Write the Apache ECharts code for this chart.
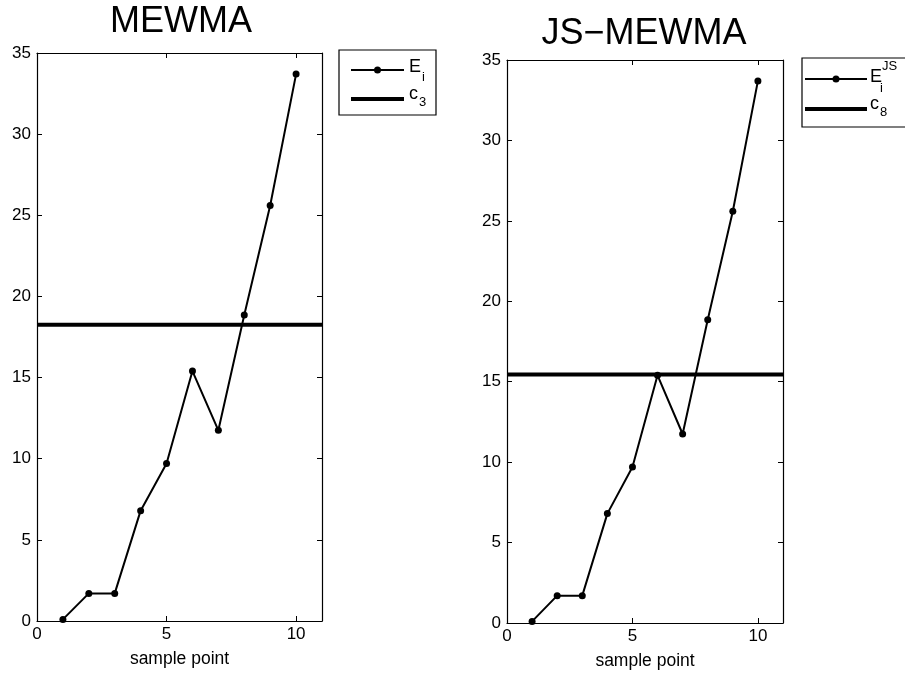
<!DOCTYPE html>
<html>
<head>
<meta charset="utf-8">
<script src="https://cdn.jsdelivr.net/npm/echarts@6/dist/echarts.min.js"></script>
<style>
html,body{margin:0;padding:0;background:#fff;}
#c{width:905px;height:673px;}
</style>
</head>
<body>
<div id="c"></div>
<script>
// ---- data ----
var samplePoints = [1, 2, 3, 4, 5, 6, 7, 8, 9, 10];
var E_values = [0.1, 1.7, 1.7, 6.8, 9.7, 15.4, 11.75, 18.85, 25.6, 33.7];
var EJS_values = [0.1, 1.7, 1.7, 6.8, 9.7, 15.4, 11.75, 18.85, 25.6, 33.7];
var c3 = 18.25;
var c8 = 15.45;
var xRange = [0, 11];
var yRange = [0, 35];
var titles = ['MEWMA', 'JS\u2212MEWMA'];
var xName = 'sample point';

var FONT = 'Liberation Sans, Arial, Helvetica, sans-serif';
var chart = echarts.init(document.getElementById('c'), null, {renderer: 'canvas'});

function pts(xs, ys) { return xs.map(function (x, i) { return [x, ys[i]]; }); }

var grids = [
  {left: 37, top: 53, width: 285, height: 568, containLabel: false, outerBoundsMode: 'none'},
  {left: 507, top: 60, width: 276, height: 563, containLabel: false, outerBoundsMode: 'none'}
];

var xAxes = [], yAxes = [];
grids.forEach(function (g, gi) {
  xAxes.push({
    type: 'value', gridIndex: gi, min: xRange[0], max: xRange[1], interval: 5,
    name: xName, nameLocation: 'middle', nameGap: 29,
    nameTextStyle: {fontFamily: FONT, fontSize: 17.5, color: '#000'},
    axisLine: {onZero: false, lineStyle: {color: '#000', width: 1.2}},
    axisTick: {inside: true, length: 5, lineStyle: {color: '#000'}},
    axisLabel: {fontFamily: FONT, fontSize: 17, color: '#000', margin: 5,
      showMaxLabel: false},
    splitLine: {show: false}
  });
  xAxes.push({
    type: 'value', gridIndex: gi, position: 'top', min: xRange[0], max: xRange[1], interval: 5,
    axisLine: {onZero: false, lineStyle: {color: '#000', width: 1.2}},
    axisTick: {inside: true, length: 5, lineStyle: {color: '#000'}},
    axisLabel: {show: false}, splitLine: {show: false}
  });
  yAxes.push({
    type: 'value', gridIndex: gi, min: yRange[0], max: yRange[1], interval: 5,
    axisLine: {onZero: false, lineStyle: {color: '#000', width: 1.2}},
    axisTick: {inside: true, length: 5, lineStyle: {color: '#000'}},
    axisLabel: {fontFamily: FONT, fontSize: 17, color: '#000', margin: 6},
    splitLine: {show: false}
  });
  yAxes.push({
    type: 'value', gridIndex: gi, position: 'right', min: yRange[0], max: yRange[1], interval: 5,
    axisLine: {onZero: false, lineStyle: {color: '#000', width: 1.2}},
    axisTick: {inside: true, length: 5, lineStyle: {color: '#000'}},
    axisLabel: {show: false}, splitLine: {show: false}
  });
});

var series = [
  {name: 'E_i', type: 'line', xAxisIndex: 0, yAxisIndex: 0, data: pts(samplePoints, E_values),
   symbol: 'circle', symbolSize: 7, itemStyle: {color: '#000'}, lineStyle: {color: '#000', width: 2},
   animation: false, z: 3},
  {name: 'c_3', type: 'line', xAxisIndex: 0, yAxisIndex: 0, data: [[xRange[0], c3], [xRange[1], c3]],
   symbol: 'none', lineStyle: {color: '#000', width: 4}, animation: false, z: 2},
  {name: 'E_i^JS', type: 'line', xAxisIndex: 2, yAxisIndex: 2, data: pts(samplePoints, EJS_values),
   symbol: 'circle', symbolSize: 7, itemStyle: {color: '#000'}, lineStyle: {color: '#000', width: 2},
   animation: false, z: 3},
  {name: 'c_8', type: 'line', xAxisIndex: 2, yAxisIndex: 2, data: [[xRange[0], c8], [xRange[1], c8]],
   symbol: 'none', lineStyle: {color: '#000', width: 4}, animation: false, z: 2}
];

// legend boxes drawn as graphics (need stacked sub/superscripts)
function legendBox(x, y, w, h, rows) {
  var children = [
    {type: 'rect', shape: {x: x, y: y, width: w, height: h},
     style: {fill: '#fff', stroke: '#000', lineWidth: 1.2}}
  ];
  rows.forEach(function (r) {
    children.push({type: 'line', shape: {x1: r.lx1, y1: r.y, x2: r.lx2, y2: r.y},
      style: {stroke: '#000', lineWidth: r.lw}});
    if (r.dot) children.push({type: 'circle', shape: {cx: (r.lx1 + r.lx2) / 2, cy: r.y, r: 3.5},
      style: {fill: '#000'}});
    r.texts.forEach(function (t) {
      children.push({type: 'text', x: t.x, y: t.y,
        style: {text: t.s, font: t.size + 'px ' + FONT, fill: '#000', align: 'left', verticalAlign: 'middle'}});
    });
  });
  return {type: 'group', children: children};
}

var graphics = [
  {type: 'text', x: 181, y: 22, style: {text: titles[0], font: '36px ' + FONT, fill: '#000',
    align: 'center', verticalAlign: 'middle'}},
  {type: 'text', x: 644, y: 34, style: {text: titles[1], font: '36px ' + FONT, fill: '#000',
    align: 'center', verticalAlign: 'middle'}},
  legendBox(339, 50, 97, 65, [
    {y: 70, lx1: 351, lx2: 404, lw: 2, dot: true,
     texts: [{s: 'E', x: 409, y: 67, size: 18}, {s: 'i', x: 422, y: 77, size: 13}]},
    {y: 99, lx1: 351, lx2: 404, lw: 4, dot: false,
     texts: [{s: 'c', x: 409, y: 94, size: 18}, {s: '3', x: 419, y: 102, size: 13}]}
  ]),
  legendBox(802, 58, 110, 69, [
    {y: 79, lx1: 805, lx2: 867, lw: 2, dot: true,
     texts: [{s: 'E', x: 870, y: 77, size: 18}, {s: 'i', x: 880, y: 88, size: 13},
             {s: 'JS', x: 882, y: 66, size: 13}]},
    {y: 109, lx1: 805, lx2: 867, lw: 4, dot: false,
     texts: [{s: 'c', x: 870, y: 104, size: 18}, {s: '8', x: 880, y: 112, size: 13}]}
  ])
];

chart.setOption({
  animation: false,
  backgroundColor: '#fff',
  grid: grids,
  xAxis: xAxes,
  yAxis: yAxes,
  series: series,
  graphic: graphics
});
</script>
</body>
</html>
